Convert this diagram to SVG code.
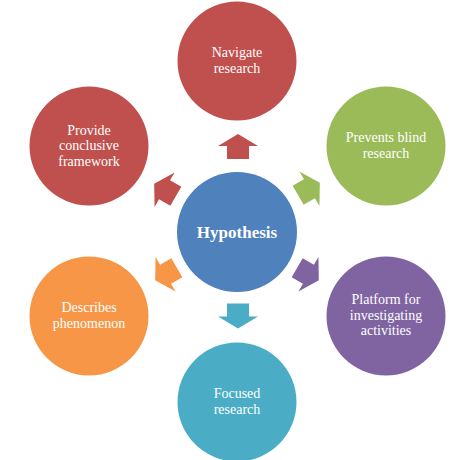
<svg xmlns="http://www.w3.org/2000/svg" width="474" height="460" viewBox="0 0 474 460">
<style>
.lbl{font-family:"Liberation Serif","Times New Roman",serif;font-size:14px;fill:#FFFFFF;text-anchor:middle}
.hub{font-family:"Liberation Serif","Times New Roman",serif;font-size:17px;font-weight:bold;fill:#FFFFFF;text-anchor:middle}
</style>
<defs>
<path id="arr" d="M0,-12.5 L20,-0.5 L11,-0.5 L11,12.5 L-11,12.5 L-11,-0.5 L-20,-0.5 Z"/>
</defs>
<rect width="474" height="460" fill="#FFFFFF"/>
<g id="connectors">
<use href="#arr" fill="#C0504D" transform="translate(238,146.5)"/>
<use href="#arr" fill="#9BBB59" transform="translate(309,189) rotate(60)"/>
<use href="#arr" fill="#8064A2" transform="translate(308,274) rotate(120)"/>
<use href="#arr" fill="#4BACC6" transform="translate(238,316) rotate(180)"/>
<use href="#arr" fill="#F79646" transform="translate(166,274) rotate(-120)"/>
<use href="#arr" fill="#C0504D" transform="translate(165,190) rotate(-60)"/>
</g>
<g id="hub">
<circle cx="237" cy="232" r="60" fill="#4F81BD"/>
<text class="hub" x="237" y="238">Hypothesis</text>
</g>
<g id="navigate">
<circle cx="237" cy="61" r="59.5" fill="#C0504D"/>
<text class="lbl" x="237" y="57.25">Navigate<tspan x="237" dy="15.5">research</tspan></text>
</g>
<g id="prevents">
<circle cx="386" cy="146" r="59.5" fill="#9BBB59"/>
<text class="lbl" x="386" y="142.25">Prevents blind<tspan x="386" dy="15.5">research</tspan></text>
</g>
<g id="platform">
<circle cx="386" cy="316" r="59.5" fill="#8064A2"/>
<text class="lbl" x="386" y="304">Platform for<tspan x="386" dy="15.5">investigating</tspan><tspan x="386" dy="15.5">activities</tspan></text>
</g>
<g id="focused">
<circle cx="237" cy="402" r="59.5" fill="#4BACC6"/>
<text class="lbl" x="237" y="398.25">Focused<tspan x="237" dy="15.5">research</tspan></text>
</g>
<g id="describes">
<circle cx="89" cy="316" r="59.5" fill="#F79646"/>
<text class="lbl" x="89" y="312.25">Describes<tspan x="89" dy="15.5">phenomenon</tspan></text>
</g>
<g id="provide">
<circle cx="89" cy="146" r="59.5" fill="#C0504D"/>
<text class="lbl" x="89" y="134.5">Provide<tspan x="89" dy="15.5">conclusive</tspan><tspan x="89" dy="15.5">framework</tspan></text>
</g>
</svg>
